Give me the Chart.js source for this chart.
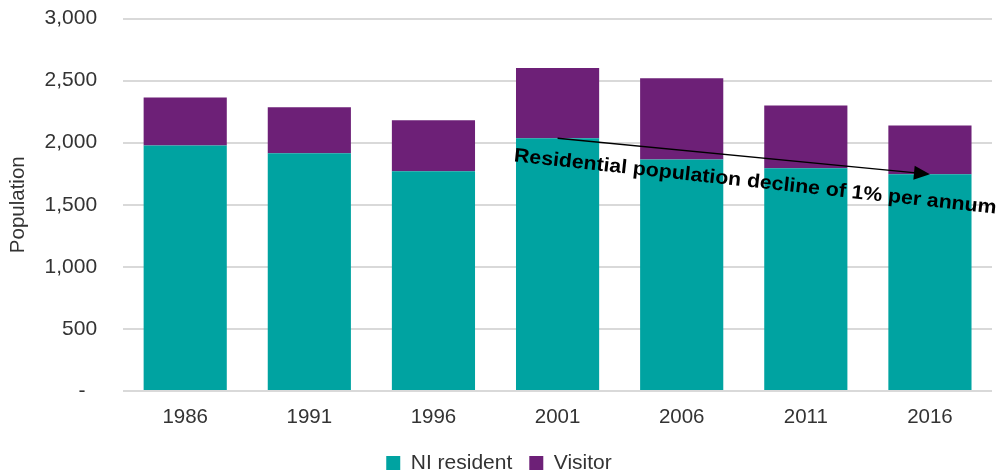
<!DOCTYPE html>
<html lang="en">
<head>
    <meta charset="UTF-8">
    <title>Population by year</title>
    <script src="https://cdn.jsdelivr.net/npm/chart.js"></script>
    <style>
        body {
            margin: 0;
            background: #ffffff;
        }
        .chart-box {
            position: relative;
            width: 998px;
            height: 475px;
        }
    </style>
</head>
<body>
    <div class="chart-box">
        <canvas id="popChart"></canvas>
    </div>

    <script>
        const years = ['1986', '1991', '1996', '2001', '2006', '2011', '2016'];
        const residents = [1977, 1915, 1770, 2036, 1864, 1794, 1746];
        const visitors = [388, 371, 411, 565, 656, 506, 393];
        const yTicks = [0, 500, 1000, 1500, 2000, 2500, 3000];
        const noteText = 'Residential population decline of 1% per annum';

        const fontFamily = '"Liberation Sans", Arial, sans-serif';

        // arrow from 2001 residents down to 2016 residents, with the rotated note
        const trendNote = {
            id: 'trendNote',
            afterDatasetsDraw(chart) {
                const ctx = chart.ctx;
                const x = chart.scales.x;
                const y = chart.scales.y;
                const x1 = x.getPixelForValue(3);
                const y1 = y.getPixelForValue(residents[3]);
                const x2 = x.getPixelForValue(6);
                const y2 = y.getPixelForValue(residents[6]);
                const ang = Math.atan2(y2 - y1, x2 - x1);

                ctx.save();
                ctx.strokeStyle = '#000';
                ctx.fillStyle = '#000';
                ctx.lineWidth = 1.3;
                ctx.beginPath();
                ctx.moveTo(x1, y1);
                ctx.lineTo(x2 - 14 * Math.cos(ang), y2 - 14 * Math.sin(ang));
                ctx.stroke();
                ctx.translate(x2, y2);
                ctx.rotate(ang);
                ctx.beginPath();
                ctx.moveTo(0, 0);
                ctx.lineTo(-16, -7);
                ctx.lineTo(-16, 7);
                ctx.closePath();
                ctx.fill();
                ctx.restore();

                ctx.save();
                ctx.translate(x1 - 44, y1 + 23);
                ctx.rotate(6.2 * Math.PI / 180);
                ctx.font = 'bold 19.5px ' + fontFamily;
                const w = ctx.measureText(noteText).width;
                ctx.scale(485 / w, 1);
                ctx.fillStyle = '#000';
                ctx.textBaseline = 'alphabetic';
                ctx.fillText(noteText, 0, 0);
                ctx.restore();
            }
        };

        const ctx = document.getElementById('popChart').getContext('2d');
        new Chart(ctx, {
            type: 'bar',
            data: {
                labels: years,
                datasets: [{
                    label: 'NI resident',
                    data: residents,
                    backgroundColor: '#00A3A1',
                    categoryPercentage: 1,
                    barPercentage: 0.67
                }, {
                    label: 'Visitor',
                    data: visitors,
                    backgroundColor: '#6D2077',
                    categoryPercentage: 1,
                    barPercentage: 0.67
                }]
            },
            options: {
                responsive: true,
                maintainAspectRatio: false,
                animation: false,
                layout: { padding: { top: 0, right: 6, left: 6, bottom: -8.5 } },
                plugins: {
                    legend: {
                        position: 'bottom',
                        labels: {
                            boxWidth: 14,
                            boxHeight: 14,
                            padding: 17,
                            color: '#333',
                            font: { family: fontFamily, size: 21 }
                        }
                    },
                    tooltip: { enabled: false }
                },
                scales: {
                    x: {
                        stacked: true,
                        grid: { display: false },
                        border: { display: false },
                        ticks: {
                            color: '#333',
                            padding: 6,
                            font: { family: fontFamily, size: 20.5 }
                        }
                    },
                    y: {
                        stacked: true,
                        min: 0,
                        max: 3000,
                        afterBuildTicks(axis) {
                            axis.ticks = yTicks.map(v => ({ value: v }));
                        },
                        grid: {
                            color: '#D9D9D9',
                            lineWidth: 2,
                            drawTicks: true,
                            tickLength: 20,
                            tickColor: 'rgba(0,0,0,0)'
                        },
                        border: { display: false },
                        title: {
                            display: true,
                            text: 'Population',
                            color: '#333',
                            padding: { top: 0, bottom: 8 },
                            font: { family: fontFamily, size: 20.5 }
                        },
                        ticks: {
                            color: '#333',
                            padding: 6,
                            font: { family: fontFamily, size: 21 },
                            callback: v => v === 0 ? '-  ' : v.toLocaleString('en-US')
                        }
                    }
                }
            },
            plugins: [trendNote]
        });
    </script>
</body>
</html>
